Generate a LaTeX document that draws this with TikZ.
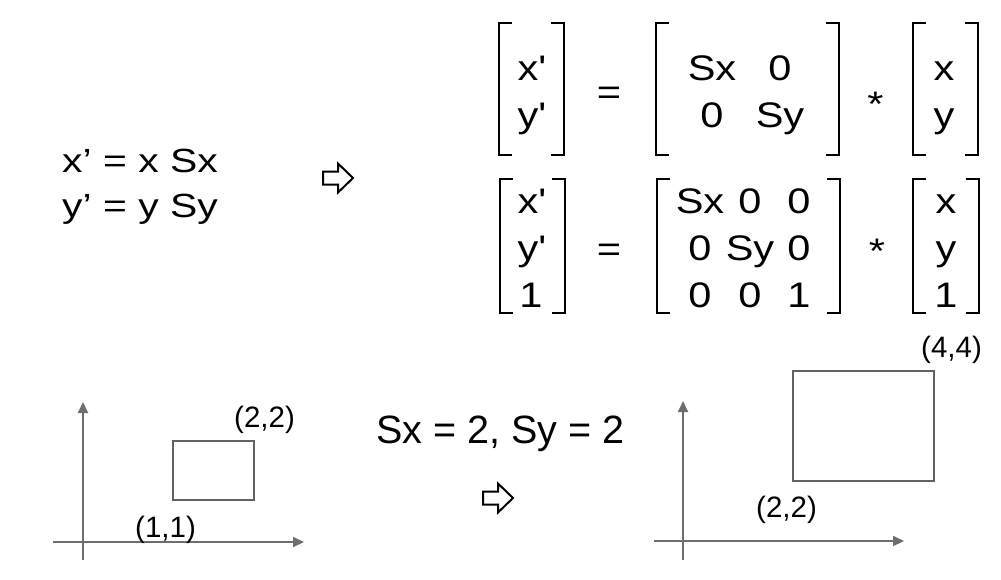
\documentclass[tikz,border=0pt]{standalone}
\usepackage{fontspec}
\setmainfont{Liberation Sans}
\usetikzlibrary{arrows.meta}
\definecolor{axisgray}{HTML}{6E6E6E}
\definecolor{boxgray}{HTML}{626262}
\newcommand{\widen}[1]{\scalebox{1.17}[1]{#1}}
\newcommand{\widenmore}[1]{\scalebox{1.22}[1]{#1}}
\newcommand{\bracketpair}[4]{% left x, right x, top y, bottom y
  \draw[bracket] (#1+13,#3) -- (#1,#3) -- (#1,#4) -- (#1+13,#4);
  \draw[bracket] (#2-13,#3) -- (#2,#3) -- (#2,#4) -- (#2-13,#4);
}
\tikzstyle{entry} = [% one entry of a matrix or vector
  anchor=base,
  inner sep=0pt,
  font=\fontsize{35.5}{42}\selectfont
  ]
\tikzstyle{formula} = [% the equations on the left
  anchor=base west,
  inner sep=0pt,
  font=\fontsize{33.5}{40}\selectfont
  ]
\tikzstyle{coordlabel} = [% corner coordinates
  anchor=base west,
  inner sep=0pt,
  font=\fontsize{29.5}{35}\selectfont
  ]
\tikzstyle{bracket} = [% square brackets
  line width=2.5pt,
  draw=black
  ]
\tikzstyle{axis} = [% coordinate axes
  line width=2pt,
  draw=axisgray,
  -{Triangle[length=11pt,width=10pt]}
  ]
\tikzstyle{outline} = [% the scaled rectangle
  line width=2pt,
  draw=boxgray
  ]
\tikzset{
  hollowarrow/.pic={% block arrow drawn in outline
    \draw[line width=2pt, line join=miter]
      (-30,-6.5) -- (-15,-6.5) -- (-15,-14.5) -- (0,0)
      -- (-15,14.5) -- (-15,6.5) -- (-30,6.5) -- cycle;
  }
}

\begin{document}
\begin{tikzpicture}[x=1pt, y=-1pt]
\useasboundingbox (0,0) rectangle (1001,579);

%%% Equations on the left
\node[formula] (eqx) at (62,172) {\widenmore{x’ = x Sx}};
\node[formula] (eqy) at (62,217) {\widenmore{y’ = y Sy}};
\pic at (353,178) {hollowarrow};

%%% 2x2 form
\node[entry] (p1x) at (532,80) {\widen{x\textquotesingle}};
\node[entry] (p1y) at (532,127) {\widen{y\textquotesingle}};
\node[entry] (eq1) at (609,104) {\widen{=}};
\node[entry] (a11) at (712,80) {\widen{Sx}};
\node[entry] (a12) at (780,80) {\widen{0}};
\node[entry] (a21) at (712,127) {\widen{0}};
\node[entry] (a22) at (780,127) {\widen{Sy}};
\node[entry] (mul1) at (875.5,116) {\widen{*}};
\node[entry] (v1x) at (944,80) {\widen{x}};
\node[entry] (v1y) at (944,127) {\widen{y}};
\bracketpair{499}{564}{23}{155}
\bracketpair{656}{839}{23}{155}
\bracketpair{913}{978}{23}{155}

%%% 3x3 homogeneous form
\node[entry] (p2x) at (532,213) {\widen{x\textquotesingle}};
\node[entry] (p2y) at (532,260) {\widen{y\textquotesingle}};
\node[entry] (p2w) at (531,307) {\widen{1}};
\node[entry] (eq2) at (609,261) {\widen{=}};
\node[entry] (b11) at (700,213) {\widen{Sx}};
\node[entry] (b12) at (750,213) {\widen{0}};
\node[entry] (b13) at (799,213) {\widen{0}};
\node[entry] (b21) at (700,260) {\widen{0}};
\node[entry] (b22) at (750,260) {\widen{Sy}};
\node[entry] (b23) at (799,260) {\widen{0}};
\node[entry] (b31) at (700,307) {\widen{0}};
\node[entry] (b32) at (750,307) {\widen{0}};
\node[entry] (b33) at (799,307) {\widen{1}};
\node[entry] (mul2) at (877,263) {\widen{*}};
\node[entry] (v2x) at (946,213) {\widen{x}};
\node[entry] (v2y) at (946,260) {\widen{y}};
\node[entry] (v2w) at (946,307) {\widen{1}};
\bracketpair{500}{565}{179}{313}
\bracketpair{657}{840}{179}{313}
\bracketpair{913}{979}{179}{313}

%%% Before scaling
\coordinate (ybot1) at (83,560);
\coordinate (ytop1) at (83,402);
\coordinate (xlft1) at (53,542);
\coordinate (xrgt1) at (304,542);
\draw[axis] (ybot1) -- (ytop1);
\draw[axis] (xlft1) -- (xrgt1);
\coordinate (lo1) at (173,500);
\coordinate (hi1) at (254,441);
\draw[outline] (lo1) rectangle (hi1);
\node[coordlabel] (hilab1) at (234,427) {(2,2)};
\node[coordlabel] (lolab1) at (135,537) {(1,1)};

%%% Scale factors
\node[anchor=base west, inner sep=0pt, font=\fontsize{39.5}{47}\selectfont]
  (factors) at (376,443) {Sx = 2, Sy = 2};
\pic at (513,498) {hollowarrow};

%%% After scaling
\coordinate (ybot2) at (683,560);
\coordinate (ytop2) at (683,401);
\coordinate (xlft2) at (654,541);
\coordinate (xrgt2) at (904,541);
\draw[axis] (ybot2) -- (ytop2);
\draw[axis] (xlft2) -- (xrgt2);
\coordinate (lo2) at (793,481);
\coordinate (hi2) at (934,371);
\draw[outline] (lo2) rectangle (hi2);
\node[coordlabel] (hilab2) at (921,357) {(4,4)};
\node[coordlabel] (lolab2) at (756,517) {(2,2)};

\end{tikzpicture}
\end{document}
